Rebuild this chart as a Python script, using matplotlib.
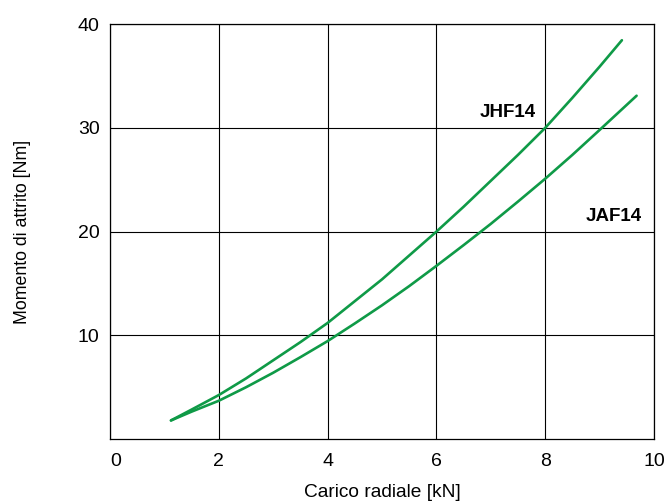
import numpy as np
import matplotlib.pyplot as plt

plt.rcParams['font.family'] = ['Liberation Sans', 'DejaVu Sans']

# curve readings (load in kN, friction torque in Nm)
jhf_x = [1.12, 1.5, 2.0, 2.5, 3.0, 3.5, 4.0, 4.5, 5.0, 5.5, 6.0, 6.5, 7.0, 7.5, 8.0, 8.5, 9.0, 9.41]
jhf_y = [1.8, 2.85, 4.25, 5.85, 7.6, 9.35, 11.2, 13.3, 15.4, 17.7, 20.0, 22.4, 24.9, 27.4, 30.0, 32.9, 35.9, 38.45]
jaf_x = [1.12, 1.5, 2.0, 2.5, 3.0, 3.5, 4.0, 4.5, 5.0, 5.5, 6.0, 6.5, 7.0, 7.5, 8.0, 8.5, 9.0, 9.68]
jaf_y = [1.8, 2.65, 3.7, 5.0, 6.4, 7.9, 9.45, 11.15, 12.9, 14.75, 16.7, 18.7, 20.75, 22.9, 25.1, 27.4, 29.8, 33.1]

x_ticks = [0, 2, 4, 6, 8, 10]
y_ticks = [10, 20, 30, 40]
green = '#0f9a47'

fig = plt.figure(figsize=(6.67, 5.03), dpi=100)
ax = fig.add_axes([0.165, 0.127, 0.8155, 0.825])

ax.plot(jhf_x, jhf_y, color=green, lw=1.9, solid_capstyle='round', solid_joinstyle='round')
ax.plot(jaf_x, jaf_y, color=green, lw=1.9, solid_capstyle='round', solid_joinstyle='round')

ax.text(7.83, 31.5, 'JHF14', ha='right', va='center', fontsize=13.5, fontweight='bold')
ax.text(9.78, 21.5, 'JAF14', ha='right', va='center', fontsize=13.5, fontweight='bold')

ax.set_xlim(0, 10)
ax.set_ylim(0, 40)
ax.set_xticks(x_ticks)
ax.set_yticks(y_ticks)
ax.grid(True, color='black', lw=0.8)
ax.tick_params(length=0, labelsize=14)
ax.tick_params(axis='x', pad=10)
ax.tick_params(axis='y', pad=7.5)
ax.get_xticklabels()[0].set_horizontalalignment('left')
for s in ax.spines.values():
    s.set_linewidth(0.9)

ax.set_xlabel('Carico radiale [kN]', fontsize=13.8, labelpad=10)
ax.set_ylabel('Momento di attrito [Nm]', fontsize=12.8, labelpad=34)

plt.savefig('out.png', dpi=100)
plt.close()
